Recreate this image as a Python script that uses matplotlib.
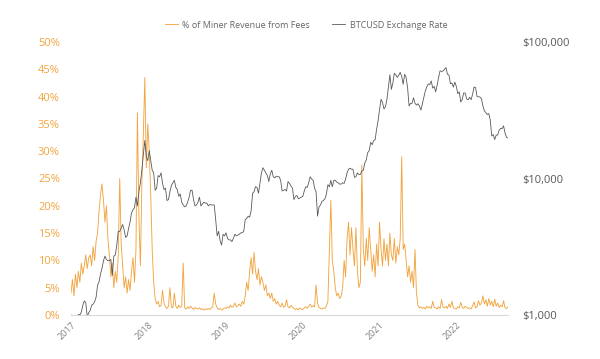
import pandas as pd
import matplotlib
matplotlib.use("Agg")
from matplotlib import pyplot as plt
from matplotlib.ticker import FuncFormatter

plt.rcParams['font.family'] = ['Open Sans', 'DejaVu Sans']

ORANGE = "#F2A541"
GREY = "#595959"

START = "2017-01-01"

# weekly BTCUSD close (log axis)
btc_2017 = [1000, 900, 830, 920, 920,
            1010, 1000, 1050, 1180,
            1270, 1230, 970, 1040,
            1080, 1180, 1200, 1250, 1350,
            1650, 1750, 2000, 2200,
            2500, 2700, 2550, 2500,
            2500, 2550, 1950, 2700, 2750,
            3250, 4100, 4100, 4350,
            4600, 4200, 3700, 3800,
            4300, 4800, 5600, 5900, 6100,
            7300, 6300, 8000, 9300,
            11500, 15000, 19000, 14500, 13500]
btc_2018 = [16000, 13500, 11500, 11000,
            8200, 8500, 10500, 10300,
            11000, 9200, 8300, 8500,
            6900, 7000, 8000, 8900, 9300,
            9700, 8600, 8300, 7400,
            7700, 6700, 6400, 6200,
            6300, 6700, 7300, 8200, 8200,
            7000, 6300, 6400, 6700,
            7300, 6300, 6500, 6700, 6600,
            6600, 6300, 6450, 6400,
            6400, 6400, 5000, 3800,
            4100, 3500, 3250, 3900, 3800]
btc_2019 = [4000, 3650, 3550, 3550,
            3450, 3650, 3900, 3800,
            3850, 3900, 4000, 4000, 4100,
            5000, 5100, 5300, 5200,
            5800, 7800, 8000, 8700,
            8600, 7800, 9300, 11000, 12000,
            11500, 11000, 10500, 9500,
            10800, 11500, 10300, 10100,
            10400, 10300, 10300, 9700, 8100,
            8200, 8300, 8100, 9500,
            9200, 8800, 8500, 7000,
            7400, 7500, 7100, 7200, 7300]
btc_2020 = [7400, 8100, 8700, 8600,
            9300, 10300, 9900, 9700,
            8500, 8000, 5300, 6200, 6400,
            6800, 6900, 7100, 7700,
            9000, 8700, 9700, 8700, 9700,
            9700, 9400, 9300, 9100,
            9100, 9300, 9200, 9900,
            11000, 11700, 11900, 11700, 11700,
            10200, 10300, 11000, 10700,
            10700, 11400, 11500, 13000,
            13700, 15500, 16000, 18400, 17700,
            19000, 19200, 23000, 26500]
btc_2021 = [32000, 38000, 36000, 32300, 33500,
            38000, 47000, 57500, 45000,
            50000, 59000, 57500, 55000,
            57000, 60000, 56000, 49000,
            58000, 55000, 46000, 34000, 35500,
            35500, 39000, 35600, 34500,
            35300, 34000, 31700, 35400,
            39800, 43800, 47000, 49300, 48800,
            51800, 46000, 47300, 43200,
            48200, 55000, 61500, 60900, 61300,
            63200, 65000, 58000, 57300,
            49400, 50100, 46700, 50800]
btc_2022 = [47300, 41800, 43100, 36300, 37900,
            42400, 42200, 38300, 37700,
            39400, 37800, 41300, 46800,
            46400, 40000, 39700, 39500,
            38500, 34000, 31300, 30300, 29400,
            29900, 26700, 20500, 21000,
            19300, 20800, 20800, 22600, 23300,
            23200, 24300, 21500, 20000,
            19800]

# weekly share of miner revenue from fees, %
fee_2017 = [4.0, 6.5, 3.5, 7.5, 5.0,
            8.0, 6.0, 9.5, 7.5,
            9.0, 11.0, 8.5, 10.5,
            11.0, 9.0, 12.5, 10.0, 13.5,
            15.0, 19.0, 22.0, 24.0,
            21.0, 17.0, 20.0, 14.0,
            11.0, 7.0, 9.5, 5.0, 8.0,
            6.0, 11.0, 25.0, 13.0,
            9.0, 5.0, 7.0, 4.0,
            6.5, 4.5, 8.0, 10.5, 6.0,
            12.0, 37.0, 18.0, 9.0,
            24.0, 33.0, 43.5, 27.0, 35.0]
fee_2018 = [30.0, 22.0, 12.0, 6.0,
            3.0, 2.0, 2.5, 1.5,
            1.8, 4.5, 2.2, 1.5,
            1.2, 1.6, 5.0, 1.5, 1.3,
            4.0, 1.6, 1.2, 1.8,
            1.4, 1.6, 9.5, 1.3,
            1.1, 1.5, 1.2, 1.6, 1.3,
            1.0, 1.4, 1.2, 1.1,
            1.3, 1.0, 1.2, 0.9, 1.1,
            1.0, 1.2, 1.0, 1.3,
            1.5, 4.0, 2.0, 1.3,
            1.0, 1.2, 0.9, 1.1, 1.3]
fee_2019 = [1.2, 1.5, 1.3, 1.8,
            1.4, 1.6, 2.2, 1.5,
            1.7, 2.0, 1.6, 2.5, 2.0,
            3.5, 6.0, 4.5, 8.0,
            10.5, 7.5, 11.5, 8.0,
            6.5, 8.5, 5.5, 7.0, 6.0,
            4.5, 5.5, 3.5, 4.0,
            3.0, 4.0, 2.5, 3.0,
            2.0, 2.5, 1.8, 1.5, 2.2,
            1.4, 1.6, 2.8, 1.5,
            1.3, 1.8, 1.4, 1.2,
            1.0, 1.2, 0.9, 1.3, 1.1]
fee_2020 = [1.0, 1.3, 1.5, 1.2,
            1.6, 2.0, 1.4, 1.7,
            1.5, 5.5, 2.2, 1.4, 1.2,
            1.1, 1.3, 1.2, 1.6,
            2.5, 12.0, 21.0, 10.0, 8.0,
            5.0, 3.5, 4.0, 3.0,
            3.5, 5.0, 10.0, 7.0,
            14.0, 17.0, 11.0, 16.0, 12.0,
            9.0, 16.0, 8.0, 5.0,
            6.0, 27.5, 12.0, 9.0,
            14.0, 10.0, 16.0, 12.0, 8.0,
            11.0, 7.0, 13.0, 9.0]
fee_2021 = [17.0, 12.0, 9.0, 14.0, 10.0,
            13.0, 9.0, 15.0, 11.0,
            10.0, 14.0, 9.5, 12.5,
            11.0, 14.0, 29.0, 12.0,
            13.0, 10.0, 7.0, 9.0, 6.0,
            8.0, 5.0, 12.0, 4.0,
            1.8, 1.3, 1.5, 1.2,
            1.4, 1.1, 1.6, 1.3, 1.5,
            1.2, 2.5, 1.4, 1.3,
            1.1, 1.5, 1.2, 2.8, 1.4,
            1.3, 1.6, 1.2, 2.0,
            1.4, 2.5, 1.3, 1.2]
fee_2022 = [1.1, 1.5, 1.3, 2.3, 1.4,
            1.2, 1.6, 1.4, 1.2,
            1.3, 1.1, 1.7, 2.4,
            1.3, 1.5, 2.6, 1.8,
            2.2, 3.5, 2.0, 2.8, 1.6,
            3.0, 1.8, 2.5, 1.5,
            2.9, 1.6, 2.2, 1.4, 1.8,
            1.5, 2.6, 1.3, 1.2,
            1.5]


def main():
    btc = btc_2017 + btc_2018 + btc_2019 + btc_2020 + btc_2021 + btc_2022
    fee = fee_2017 + fee_2018 + fee_2019 + fee_2020 + fee_2021 + fee_2022
    df = pd.DataFrame({'btc': btc, 'fee': fee},
                      index=pd.date_range(START, periods=len(btc), freq='7D'))

    fig = plt.figure(figsize=(6, 3.59), dpi=100)
    ax = fig.add_axes([71 / 600, 44 / 359, 437 / 600, 273 / 359])
    ax2 = ax.twinx()

    ax.plot(df.index, df['fee'], color=ORANGE, lw=0.65,
            label="% of Miner Revenue from Fees")
    ax2.plot(df.index, df['btc'], color=GREY, lw=0.6,
             label="BTCUSD Exchange Rate")

    ax.set_ylim(0, 50)
    ax.set_yticks(range(0, 51, 5))
    ax.yaxis.set_major_formatter(FuncFormatter(lambda v, p: f"{v:.0f}%"))
    ax.tick_params(axis='y', length=0, pad=8, labelsize=8, labelcolor=ORANGE)

    ax2.set_yscale('log')
    ax2.set_ylim(1000, 100000)
    ax2.set_yticks([1000, 10000, 100000])
    ax2.yaxis.set_minor_locator(plt.NullLocator())
    ax2.yaxis.set_major_formatter(FuncFormatter(lambda v, p: f"${v:,.0f}"))
    ax2.tick_params(axis='y', length=0, pad=10, labelsize=8, labelcolor=GREY)

    ax.set_xlim(pd.Timestamp(START), df.index[-1])
    years = pd.date_range("2017-01-01", "2022-01-01", freq='YS')
    ax.set_xticks(years)
    ax.set_xticklabels([str(y.year) for y in years], rotation=45, ha='right',
                       rotation_mode='anchor', fontsize=6.5, color="#808080")
    ax.tick_params(axis='x', length=0, pad=4)

    for a in (ax, ax2):
        for side in ('top', 'left', 'right'):
            a.spines[side].set_visible(False)
        a.spines['bottom'].set_color("#d9d9d9")
        a.spines['bottom'].set_linewidth(0.8)
    ax2.spines['bottom'].set_visible(False)

    h1, l1 = ax.get_legend_handles_labels()
    h2, l2 = ax2.get_legend_handles_labels()
    leg = fig.legend(h1 + h2, l1 + l2, loc='center', bbox_to_anchor=(0.51, 0.93),
                     ncol=2, frameon=False, fontsize=6.5, handlelength=1.4,
                     columnspacing=2.5, handletextpad=0.5)
    for t in leg.get_texts():
        t.set_color("#666666")

    fig.savefig("out.png", dpi=100)


if __name__ == "__main__":
    main()
